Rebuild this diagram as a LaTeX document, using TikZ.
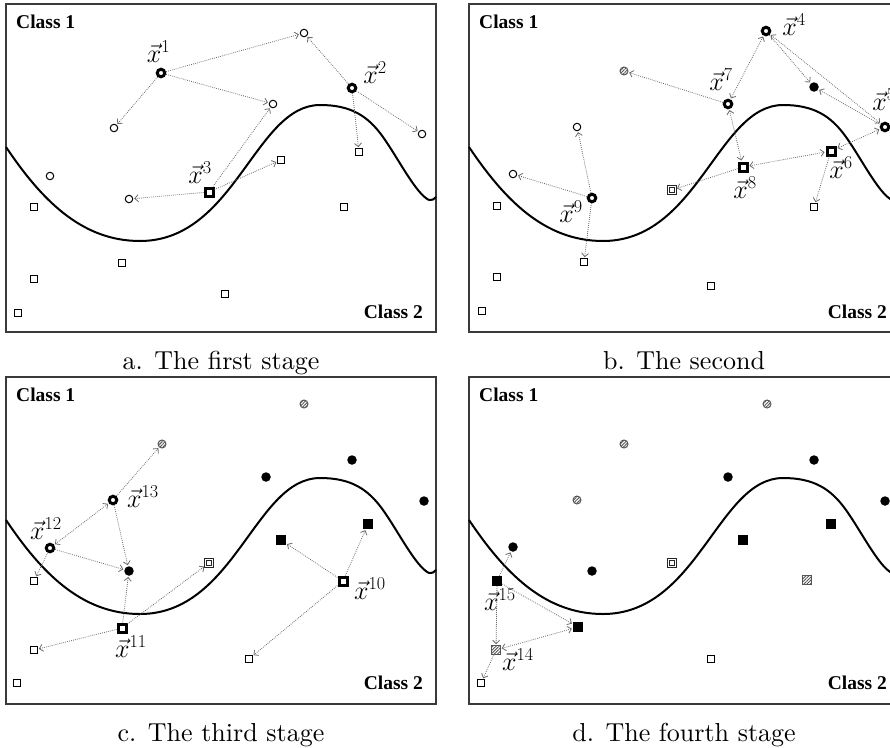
\RequirePackage{fix-cm}
\documentclass[tikz,border=0pt]{standalone}
\usepackage{fontspec}
\setmainfont{lmroman10-regular.otf}[BoldFont=lmroman10-bold.otf,ItalicFont=lmroman10-italic.otf]
\newfontfamily\classfont{Liberation Serif}
\usepackage{tikz}
\usetikzlibrary{arrows.meta,patterns.meta}
\definecolor{framegray}{HTML}{3A3A3A}
\definecolor{arrgray}{HTML}{6A6A6A}
\definecolor{hatchgray}{HTML}{555555}
\newcommand{\panelbase}[1]{%
  \draw[frame] (0,0) rectangle (430,#1);
  \draw[boundary] (0,143) .. controls (35,195) and (75,237) .. (134,237)
    .. controls (229,237) and (249,101) .. (314,101)
    .. controls (345,101) and (362,112) .. (377,133)
    .. controls (392,154) and (410,190) .. (423,196)
    .. controls (426,197) and (428,195) .. (430,193);}

\begin{document}
\begin{tikzpicture}[x=1pt,y=-1pt,
  font=\fontsize{26}{30}\selectfont,
  >={Straight Barb[length=3.5pt,width=7pt]},
  frame/.style={draw=framegray,line width=1.2pt},
  boundary/.style={line width=2pt,line join=round},
  cls/.style={font=\classfont\bfseries\fontsize{19.5}{22}\selectfont,inner sep=0pt},
  lbl/.style={anchor=base,inner sep=0pt},
  subcap/.style={anchor=base,inner sep=0pt},
  opc/.style={circle,draw,line width=1pt,minimum size=7.5pt,inner sep=0pt,fill=white},
  xc/.style={circle,draw,line width=3pt,minimum size=7.5pt,inner sep=0pt,fill=white},
  opsq/.style={rectangle,draw,line width=1.1pt,minimum size=6.5pt,inner sep=0pt,fill=white},
  xsq/.style={rectangle,draw,line width=3pt,minimum size=8pt,inner sep=0pt,fill=white},
  dsq/.style={rectangle,draw=black!85,double,double distance=1.5pt,line width=1pt,
    minimum size=7pt,inner sep=0pt,fill=white},
  fc/.style={circle,fill=black,minimum size=9.5pt,inner sep=0pt},
  fsq/.style={rectangle,fill=black,minimum size=10pt,inner sep=0pt},
  hc/.style={circle,draw=hatchgray,line width=1pt,minimum size=8pt,inner sep=0pt,
    pattern={Lines[angle=45,distance=2.2pt,line width=0.9pt]},pattern color=hatchgray},
  hsq/.style={rectangle,draw=hatchgray,line width=1pt,minimum size=8.5pt,inner sep=0pt,
    pattern={Lines[angle=45,distance=2.2pt,line width=0.9pt]},pattern color=hatchgray},
  arr/.style={->,draw=arrgray,line width=0.8pt,dash pattern=on 0.8pt off 1.2pt,
    shorten >=1pt},
  darr/.style={arr,<->,shorten <=1pt}
]
\useasboundingbox (0,0) rectangle (890,747);
\clip (0,0) rectangle (890,747);

% a. first stage
\begin{scope}[shift={(6,4)}]
\panelbase{328}
\node[cls,anchor=base west] (a-cl1) at (10,24) {Class 1};
\node[cls,anchor=base east] (a-cl2) at (417,314) {Class 2};
\node[xc] (a1) at (155,69) {};
\node[opc] (a2) at (298,29) {};
\node[xc] (a3) at (346,84) {};
\node[opc] (a4) at (267,100) {};
\node[opc] (a5) at (108,124) {};
\node[opc] (a6) at (416,130) {};
\node[opsq] (a7) at (353,148) {};
\node[opsq] (a8) at (275,156) {};
\node[opc] (a9) at (44,172) {};
\node[xsq] (a10) at (203,188) {};
\node[opc] (a11) at (123,195) {};
\node[opsq] (a12) at (28,203) {};
\node[opsq] (a13) at (338,203) {};
\node[opsq] (a14) at (116,259) {};
\node[opsq] (a15) at (28,275) {};
\node[opsq] (a16) at (219,290) {};
\node[opsq] (a17) at (12,309) {};
\node[lbl] (a-l1) at (152.5,58) {$\vec{x}^1$};
\node[lbl] (a-l2) at (369,79) {$\vec{x}^2$};
\node[lbl] (a-l3) at (194,179) {$\vec{x}^3$};
\draw[arr] (a1)--(a2); \draw[arr] (a1)--(a4); \draw[arr] (a1)--(a5);
\draw[arr] (a3)--(a2); \draw[arr] (a3)--(a6); \draw[arr] (a3)--(a7);
\draw[arr] (a10)--(a4); \draw[arr] (a10)--(a8); \draw[arr] (a10)--(a11);
\end{scope}

% b. second stage
\begin{scope}[shift={(469,4)}]
\panelbase{328}
\node[cls,anchor=base west] (b-cl1) at (10,24) {Class 1};
\node[cls,anchor=base east] (b-cl2) at (418,314) {Class 2};
\node[hc] (b1) at (155,67) {};
\node[xc] (b2) at (297,27) {};
\node[fc] (b3) at (345,83) {};
\node[xc] (b4) at (259,100) {};
\node[opc] (b5) at (108,123) {};
\node[xc] (b6) at (416,123) {};
\node[xsq] (b7) at (362,147) {};
\node[xsq] (b8) at (274,163) {};
\node[opc] (b9) at (44,170) {};
\node[dsq] (b10) at (203,186) {};
\node[xc] (b11) at (123,194) {};
\node[opsq] (b12) at (28,202) {};
\node[opsq] (b13) at (345,203) {};
\node[opsq] (b14) at (115,258) {};
\node[opsq] (b15) at (28,273) {};
\node[opsq] (b16) at (242,282) {};
\node[opsq] (b17) at (13,307) {};
\node[lbl] (b-l4) at (325,31) {$\vec{x}^4$};
\node[lbl] (b-l5) at (415,106) {$\vec{x}^5$};
\node[lbl] (b-l6) at (372,174) {$\vec{x}^6$};
\node[lbl] (b-l7) at (252,86) {$\vec{x}^7$};
\node[lbl] (b-l8) at (276,194) {$\vec{x}^8$};
\node[lbl] (b-l9) at (102,218) {$\vec{x}^9$};
\draw[darr] (b2)--(b4); \draw[arr] (b2)--(b3); \draw[darr] (b2)--(b6);
\draw[arr] (b6)--(b3); \draw[darr] (b6)--(b7); \draw[darr] (b7)--(b8);
\draw[arr] (b7)--(b13); \draw[arr] (b4)--(b1); \draw[darr] (b4)--(b8);
\draw[arr] (b8)--(b10); \draw[arr] (b11)--(b5); \draw[arr] (b11)--(b9);
\draw[arr] (b11)--(b14);
\end{scope}

% c. third stage
\begin{scope}[shift={(6,377)}]
\panelbase{327}
\node[cls,anchor=base west] (c-cl1) at (10,24) {Class 1};
\node[cls,anchor=base east] (c-cl2) at (417,312) {Class 2};
\node[hc] (c1) at (156,67) {};
\node[hc] (c2) at (298,27) {};
\node[fc] (c3) at (346,83) {};
\node[fc] (c4) at (260,100) {};
\node[xc] (c5) at (107,123) {};
\node[fc] (c6) at (418,124) {};
\node[fsq] (c7) at (362,147) {};
\node[fsq] (c8) at (275,163) {};
\node[xc] (c9) at (44,171) {};
\node[dsq] (c10) at (203,186) {};
\node[fc] (c11) at (123,194) {};
\node[opsq] (c12) at (28,204) {};
\node[xsq] (c13) at (337,204) {};
\node[xsq] (c14) at (116,251) {};
\node[opsq] (c15) at (28,273) {};
\node[opsq] (c16) at (243,282) {};
\node[opsq] (c17) at (11,306) {};
\node[lbl] (c-l10) at (364,222) {$\vec{x}^{10}$};
\node[lbl] (c-l11) at (125,280) {$\vec{x}^{11}$};
\node[lbl] (c-l12) at (40,162) {$\vec{x}^{12}$};
\node[lbl] (c-l13) at (137,130) {$\vec{x}^{13}$};
\draw[arr] (c5)--(c1); \draw[darr] (c5)--(c9); \draw[arr] (c5)--(c11);
\draw[arr] (c9)--(c11); \draw[arr] (c9)--(c12);
\draw[arr] (c14)--(c11); \draw[arr] (c14)--(c10); \draw[arr] (c14)--(c15);
\draw[arr] (c13)--(c8); \draw[arr] (c13)--(c7); \draw[arr] (c13)--(c16);
\end{scope}

% d. fourth stage
\begin{scope}[shift={(469,377)}]
\panelbase{327}
\node[cls,anchor=base west] (d-cl1) at (10,24) {Class 1};
\node[cls,anchor=base east] (d-cl2) at (418,312) {Class 2};
\node[hc] (d1) at (155,67) {};
\node[hc] (d2) at (298,27) {};
\node[fc] (d3) at (345,83) {};
\node[fc] (d4) at (259,100) {};
\node[hc] (d5) at (108,123) {};
\node[fc] (d6) at (416,124) {};
\node[fsq] (d7) at (362,147) {};
\node[fsq] (d8) at (274,163) {};
\node[fc] (d9) at (44,170) {};
\node[dsq] (d10) at (203,186) {};
\node[fc] (d11) at (123,194) {};
\node[fsq] (d12) at (28,204) {};
\node[hsq] (d13) at (338,203) {};
\node[fsq] (d14) at (109,250) {};
\node[hsq] (d15) at (27,273) {};
\node[opsq] (d16) at (242,282) {};
\node[opsq] (d17) at (12,306) {};
\node[lbl] (d-l14) at (49,293) {$\vec{x}^{14}$};
\node[lbl] (d-l15) at (31,233) {$\vec{x}^{15}$};
\draw[arr] (d12)--(d9); \draw[arr] (d12)--(d14); \draw[arr] (d12)--(d15);
\draw[darr] (d15)--(d14); \draw[arr] (d15)--(d17);
\end{scope}

\node[subcap] (cap-a) at (221,369) {a. The first stage};
\node[subcap] (cap-b) at (684,369) {b. The second};
\node[subcap] (cap-c) at (221,741) {c. The third stage};
\node[subcap] (cap-d) at (684,741) {d. The fourth stage};
\end{tikzpicture}
\end{document}
